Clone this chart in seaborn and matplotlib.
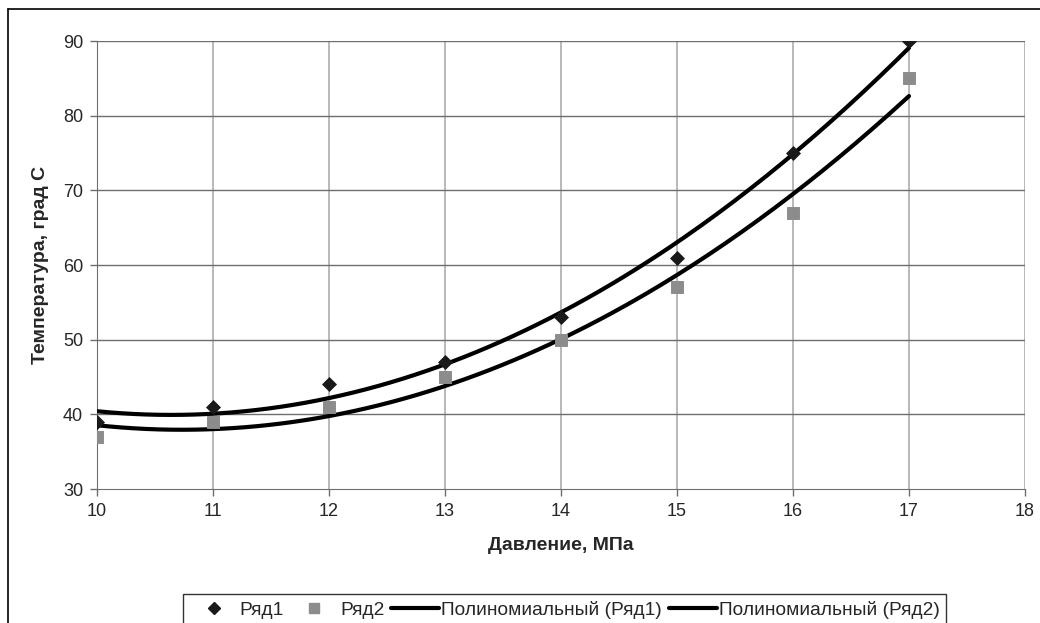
import numpy as np
import pandas as pd
import matplotlib
matplotlib.use('Agg')
import matplotlib.pyplot as plt
import seaborn as sns
from matplotlib.lines import Line2D

# Data
pressure = [10, 11, 12, 13, 14, 15, 16, 17]
series1 = [39, 41, 44, 47, 53, 61, 75, 90]
series2 = [37, 39, 41, 45, 50, 57, 67, 85]

df = pd.DataFrame({'x': pressure, 'y1': series1, 'y2': series2})

sns.set_style('white')
plt.rcParams['font.family'] = ['Liberation Sans', 'DejaVu Sans']

fig = plt.figure(figsize=(10.4, 6.23), dpi=100)
ax = fig.add_axes([97 / 1040, 1 - 489 / 623, (1025 - 97) / 1040, (489 - 41) / 623])

# polynomial (order 2) trendlines, like Excel
xs = np.linspace(10, 17, 200)
for col in ['y1', 'y2']:
    coef = np.polyfit(df['x'], df[col], 2)
    sns.lineplot(x=xs, y=np.polyval(coef, xs), ax=ax, color='black', linewidth=3, zorder=3)

sns.scatterplot(data=df, x='x', y='y1', ax=ax, marker='D', s=50, color='#1a1a1a',
                edgecolor='#1a1a1a', zorder=4)
sns.scatterplot(data=df, x='x', y='y2', ax=ax, marker='s', s=70, color='#8c8c8c',
                edgecolor='#8c8c8c', zorder=4)

ax.set_xlim(10, 18)
ax.set_ylim(30, 90)
ax.set_xticks(range(10, 19))
ax.set_yticks(range(30, 91, 10))

for v in range(11, 19):
    ax.axvline(v, color='#a6a6a6', linewidth=1.1, zorder=1)
for v in range(40, 91, 10):
    ax.axhline(v, color='#6e6e6e', linewidth=1.0, zorder=1)

for s in ['top', 'right']:
    ax.spines[s].set_visible(False)
ax.spines['left'].set_color('#6e6e6e')
ax.spines['bottom'].set_color('#6e6e6e')
ax.tick_params(axis='both', direction='out', length=5, width=1, color='#6e6e6e',
               labelsize=13, pad=5, left=True, bottom=True)

ax.set_xlabel('Давление, МПа', fontsize=14, fontweight='bold', labelpad=12)
ax.set_ylabel('Температура, град С', fontsize=14, fontweight='bold', labelpad=10)

# outer chart frame (cut at the right and bottom)
fig.add_artist(Line2D([8 / 1040, 8 / 1040], [0, 1 - 9 / 623], color='black', linewidth=1.2,
                      transform=fig.transFigure))
fig.add_artist(Line2D([8 / 1040, 1], [1 - 9 / 623, 1 - 9 / 623], color='black', linewidth=1.2,
                      transform=fig.transFigure))

handles = [
    Line2D([], [], marker='D', linestyle='none', color='#1a1a1a', markersize=6),
    Line2D([], [], marker='s', linestyle='none', color='#8c8c8c', markersize=7),
    Line2D([], [], color='black', linewidth=3),
    Line2D([], [], color='black', linewidth=3),
]
labels = ['Ряд1', 'Ряд2', 'Полиномиальный (Ряд1)', 'Полиномиальный (Ряд2)']
leg = fig.legend(handles, labels, loc='upper left', bbox_to_anchor=(183 / 1040, 1 - 594 / 623),
                 ncol=4, frameon=True, fancybox=False, fontsize=13.8, handlelength=2.5,
                 handletextpad=0.1, columnspacing=0.35, borderpad=0.35, borderaxespad=0)
leg.get_frame().set_edgecolor('black')
leg.get_frame().set_linewidth(1.0)

fig.savefig('out.png', dpi=100)
